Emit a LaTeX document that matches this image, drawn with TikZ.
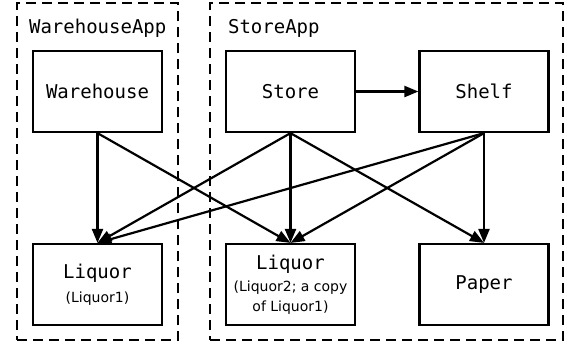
\documentclass[tikz,border=0pt]{standalone}
\usepackage{fontspec}
\setmonofont{DejaVu Sans Mono}
\setsansfont{DejaVu Sans}
\usepackage{tikz}
\usetikzlibrary{arrows.meta}
\newcommand{\sub}[1]{{\sffamily\fontsize{7}{8}\selectfont #1}}

\begin{document}
\begin{tikzpicture}[x=0.5pt,y=-0.5pt,line width=1.1pt,
    box/.style={shape=rectangle,draw=black,minimum width=64.5pt,minimum height=40.5pt,align=center,inner sep=0pt,font=\ttfamily\fontsize{9.5}{12}\selectfont},
    group/.style={shape=rectangle,draw=black,dash pattern=on 5pt off 3pt,inner sep=0pt},
    title/.style={anchor=base west,inner sep=0pt,font=\ttfamily\fontsize{9.5}{12}\selectfont}]
    \useasboundingbox (0,0) rectangle (568,345);
    \node[group,minimum width=80.5pt,minimum height=168.5pt] (WarehouseApp) at (97.5,171.5) {};
    \node[group,minimum width=176.5pt,minimum height=168.5pt] (StoreApp) at (386.5,171.5) {};
    \node[title] (WarehouseApp_t) at (28,33) {WarehouseApp};
    \node[title] (StoreApp_t) at (227,33) {StoreApp};

    \node[box] (Warehouse) at (97.5,91.5) {Warehouse};
    \node[box] (Store) at (290.5,91.5) {Store};
    \node[box] (Shelf) at (484,91.5) {Shelf};
    \node[box] (Liquor1) at (97.5,284.5) {Liquor\\[0pt]\sub{(Liquor1)}};
    \node[box] (Liquor2) at (290.5,284.5) {Liquor\\[-1pt]\sub{(Liquor2; a copy}\\[-2pt]\sub{of Liquor1)}};
    \node[box] (Paper) at (484,284.5) {Paper};

    \path [-{Triangle[length=7pt, width=5.5pt]}] (Store) edge (Shelf);

    \path [-{Triangle[length=7pt, width=5.5pt]}] (Warehouse.south) edge (Liquor1.north);
    \path [-{Triangle[length=7pt, width=5.5pt]}] (Warehouse.south) edge (Liquor2.north);

    \path [-{Triangle[length=7pt, width=5.5pt]}] (Store.south) edge (Liquor1.north);
    \path [-{Triangle[length=7pt, width=5.5pt]}] (Store.south) edge (Liquor2.north);
    \path [-{Triangle[length=7pt, width=5.5pt]}] (Store.south) edge (Paper.north);

    \path [-{Triangle[length=7pt, width=5.5pt]}] (Shelf.south) edge (Liquor1.north);
    \path [-{Triangle[length=7pt, width=5.5pt]}] (Shelf.south) edge (Liquor2.north);
    \path [-{Triangle[length=7pt, width=5.5pt]}] (Shelf.south) edge (Paper.north);
\end{tikzpicture}
\end{document}
